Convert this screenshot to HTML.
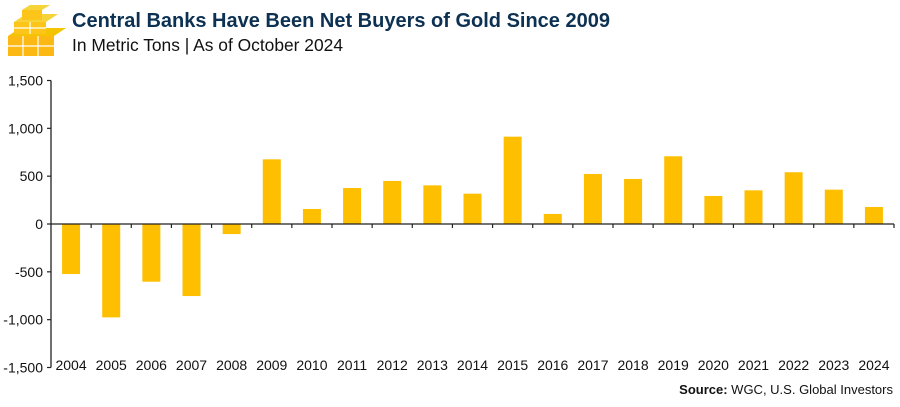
<!DOCTYPE html>
<html><head><meta charset="utf-8"><style>
body{margin:0;background:#fff;width:900px;height:402px;overflow:hidden;font-family:"Liberation Sans",sans-serif}
</style></head><body>
<svg width="900" height="402" viewBox="0 0 900 402">
<g>
<polygon points="8,36 20,28 66,28 54,36" fill="#f5c400"/>
<polygon points="8,36 54,36 54,56 8,56" fill="#fdb913"/>
<polygon points="14,22 26,14 58,14 46,22" fill="#f7d33a"/>
<polygon points="14,22 46,22 46,34 14,34" fill="#fdc51a"/>
<polygon points="22,10 30,5 50,5 42,10" fill="#f7d33a"/>
<polygon points="22,10 42,10 42,20 22,20" fill="#fdc51a"/>
<path d="M8,46 H54 M23,36 V56 M38,36 V56 M30,22 V34 M14,28 H46" stroke="#fff" stroke-width="1.2" fill="none"/>
</g>
<text x="72" y="27" font-size="20" font-weight="bold" fill="#0c3152">Central Banks Have Been Net Buyers of Gold Since 2009</text>
<text x="72" y="51" font-size="17.4" fill="#111">In Metric Tons | As of October 2024</text>
<g id="yaxis"></g>
<g id="bars"></g>
<g id="xaxis"></g>
<text x="893" y="394" font-size="13" text-anchor="end" fill="#111"><tspan font-weight="bold">Source:</tspan> WGC, U.S. Global Investors</text>
</svg>
<script>
const categories=["2004","2005","2006","2007","2008","2009","2010","2011","2012","2013","2014","2015","2016","2017","2018","2019","2020","2021","2022","2023","2024"];
const values=[-523,-976,-603,-753,-105,676,157,376,450,404,317,913,105,523,471,708,293,352,541,359,178];
const yTicks=[1500,1000,500,0,-500,-1000,-1500];
const yTickLabels=["1,500","1,000","500","0","-500","-1,000","-1,500"];
const NS="http://www.w3.org/2000/svg";
const x0=51,x1=894,y0=224,pxPer=143.5/1500;
const bw=(x1-x0)/categories.length;
function y(v){return y0-v*pxPer;}
function mk(t,a,p){const e=document.createElementNS(NS,t);for(const k in a)e.setAttribute(k,a[k]);p.appendChild(e);return e;}
const ya=document.getElementById('yaxis'),ba=document.getElementById('bars'),xa=document.getElementById('xaxis');
mk('line',{x1:x0,x2:x0,y1:y(1500),y2:y(-1500),stroke:'#222','stroke-width':1.3},ya);
yTicks.forEach((v,i)=>{
 mk('line',{x1:x0-4,x2:x0,y1:y(v),y2:y(v),stroke:'#222','stroke-width':1.2},ya);
 const t=mk('text',{x:43,y:y(v)+5,'font-size':14,'text-anchor':'end',fill:'#111'},ya);
 t.textContent=yTickLabels[i];
 
 
});
values.forEach((v,i)=>{
 const cx=x0+bw*(i+0.5);
 const r=mk('rect',{x:cx-9,y:Math.min(y(v),y0),width:18,height:Math.abs(y(v)-y0),fill:'#fdbf00'},ba);
 
 
});
mk('line',{x1:x0,x2:x1,y1:y0,y2:y0,stroke:'#222','stroke-width':1.3},xa);
categories.forEach((c,i)=>{
 const bx=x0+bw*(i+1);
 mk('line',{x1:bx,x2:bx,y1:y0,y2:y0+4,stroke:'#222','stroke-width':1.2},xa);
 const t=mk('text',{x:x0+bw*(i+0.5),y:370,'font-size':14,'text-anchor':'middle',fill:'#111'},xa);
 t.textContent=c;
 
 
});
</script>
</body></html>
